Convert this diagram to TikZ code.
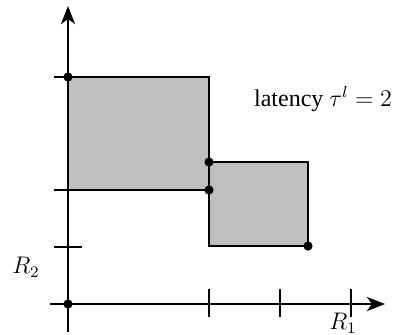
\documentclass[tikz,border=0pt]{standalone}
\usepackage{fontspec}
\setmainfont{Liberation Serif}
\usetikzlibrary{arrows.meta}
\begin{document}
\begin{tikzpicture}[x=0.5pt,y=-0.5pt,
  ln/.style={line width=1.4pt},
  ax/.style={line width=1.4pt,-{Stealth[length=9pt,width=7pt,inset=2.5pt]}},
  blk/.style={ln,fill=black!25},
  dotm/.style={circle,fill=black,inner sep=0pt,minimum size=4.6pt},
  lbl/.style={inner sep=0pt,font=\fontsize{12}{14}\selectfont}]
\useasboundingbox (0,0) rectangle (400,334);
% blocks
\draw[blk] (68,77) rectangle (209,190);
\draw[blk] (209,162) rectangle (308,246);
% axes
\coordinate (ys) at (68,332);
\coordinate (ye) at (68,6);
\coordinate (xs) at (50,304);
\coordinate (xe) at (385,304);
\draw[ax] (ys) -- (ye);
\draw[ax] (xs) -- (xe);
% ticks
\foreach \y in {77,190,247} \draw[ln] (54,\y) -- (82,\y);
\foreach \x in {209,280,351} \draw[ln] (\x,289) -- (\x,317);
% dots
\node[dotm] (d1) at (68,77) {};
\node[dotm] (d2) at (209,162) {};
\node[dotm] (d3) at (209,190) {};
\node[dotm] (d4) at (308,246) {};
\node[dotm] (d0) at (68,304) {};
% labels
\node[lbl] (r2) at (26,267) {$R_2$};
\node[lbl] (r1) at (343,323) {$R_1$};
\node[lbl] (lat) at (323,99) {latency $\tau^l = 2$};
\end{tikzpicture}
\end{document}
